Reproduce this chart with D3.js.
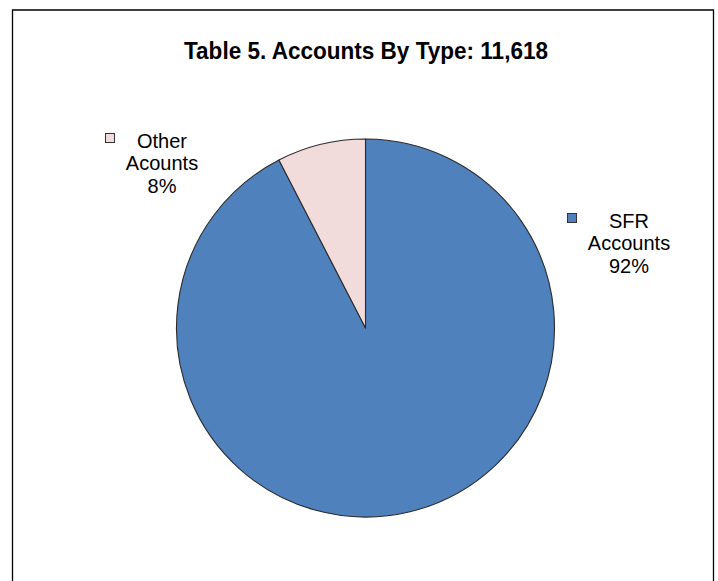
<!DOCTYPE html>
<html>
<head>
<meta charset="utf-8">
<script src="https://cdn.jsdelivr.net/npm/d3@7/dist/d3.min.js"></script>
<style>
  html, body { margin: 0; padding: 0; background: #fff; }
  svg { display: block; }
  text { font-family: "Liberation Sans", Arial, sans-serif; fill: #000; }
</style>
</head>
<body>
<svg id="chart" width="718" height="581"></svg>
<script>
const categories = ["SFR Accounts", "Other Acounts"];
const labelLines = [["SFR", "Accounts"], ["Other", "Acounts"]];
const values = [10738, 880];
const percentLabels = ["92%", "8%"];
const colors = ["#4F81BD", "#F2DCDB"];
const title = "Table 5. Accounts By Type: 11,618";

const svg = d3.select("#chart");

// chart border (no bottom edge visible)
svg.append("path")
  .attr("d", "M12.5,581 L12.5,10 L713.5,10 L713.5,581")
  .attr("fill", "none").attr("stroke", "#000").attr("stroke-width", 1.3);

svg.append("text")
  .attr("x", 366).attr("y", 59)
  .attr("text-anchor", "middle")
  .attr("font-size", 23).attr("font-weight", "bold")
  .attr("textLength", 364).attr("lengthAdjust", "spacingAndGlyphs")
  .text(title);

const cx = 365.5, cy = 328, r = 189;
const pie = d3.pie().sort(null).value(d => d.value).startAngle(0).endAngle(2 * Math.PI);
const data = categories.map((c, i) => ({ name: c, value: values[i], color: colors[i], lines: labelLines[i], pct: percentLabels[i] }));
const arcs = pie(data);
const arc = d3.arc().innerRadius(0).outerRadius(r);

const g = svg.append("g").attr("transform", `translate(${cx},${cy})`);
g.selectAll("path.slice").data(arcs).enter().append("path")
  .attr("class", "slice")
  .attr("d", arc)
  .attr("fill", d => d.data.color)
  .attr("stroke", "#2b2b2b").attr("stroke-width", 1.1)
  .attr("stroke-linejoin", "round");

// labels (layout positions)
const labelPos = [
  { x: 629, y: 228, sq: [567.5, 213.5] },
  { x: 162, y: 148, sq: [105.5, 133.5] }
];
arcs.forEach((a, i) => {
  const p = labelPos[i];
  const t = svg.append("text").attr("text-anchor", "middle").attr("font-size", 20);
  const lines = a.data.lines.concat([a.data.pct]);
  lines.forEach((ln, j) => {
    t.append("tspan").attr("x", p.x).attr("y", p.y + j * 22.3).text(ln);
  });
  svg.append("rect")
    .attr("x", p.sq[0]).attr("y", p.sq[1]).attr("width", 9).attr("height", 9)
    .attr("fill", a.data.color).attr("stroke", "#333").attr("stroke-width", 1);
});
</script>
</body>
</html>
